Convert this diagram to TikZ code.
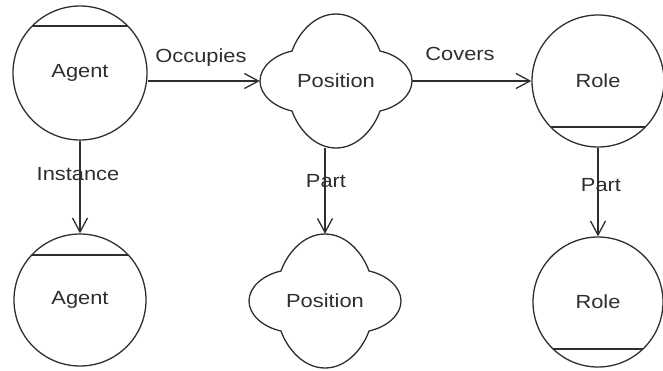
\documentclass[tikz,border=0pt]{standalone}
\usepackage{fontspec}
\setmainfont{Liberation Sans}[FakeStretch=1.15]
\usetikzlibrary{arrows.meta}

\definecolor{ink}{HTML}{2E2E2E}

\tikzset{
  % circle with a chord cut off at the given vertical offset
  capcircle/.style={circle, draw=ink, line width=1.3pt, inner sep=0pt,
    minimum size=132pt, text=ink,
    path picture={\draw[ink, line width=1.3pt]
      ([yshift=#1]path picture bounding box.west) --
      ([yshift=#1]path picture bounding box.east);}},
  % invisible holder for the four-lobed outline
  lobebox/.style={rectangle, inner sep=0pt, minimum width=152pt,
    minimum height=134pt, text=ink},
  quatrefoil/.pic={
    \draw[ink, line width=1.3pt]
      (-44,-30) .. controls (-38,-47) and (-22,-67) .. (0,-67)
      .. controls (22,-67) and (38,-47) .. (44,-30)
      .. controls (62,-26) and (76,-14) .. (76,0)
      .. controls (76,14) and (62,26) .. (44,30)
      .. controls (38,47) and (22,67) .. (0,67)
      .. controls (-22,67) and (-38,47) .. (-44,30)
      .. controls (-62,26) and (-76,14) .. (-76,0)
      .. controls (-76,-14) and (-62,-26) .. (-44,-30) -- cycle;},
  link/.style={draw=ink, line width=1.3pt,
    -{Straight Barb[length=14pt, width=15pt, line width=1.3pt]}},
  lbl/.style={text=ink, inner sep=0pt, anchor=base}
}

\begin{document}
\begin{tikzpicture}[x=1pt, y=-1pt, font=\fontsize{19}{23}\selectfont]
\useasboundingbox (0,0) rectangle (663,370);

% concept nodes
\node[capcircle=47pt, minimum size=134pt] (AgentT) at (80,73) {Agent};
\node[capcircle=45pt] (AgentB) at (80,300) {Agent};
\node[lobebox] (PosT) at (336,81) {Position};
\node[lobebox] (PosB) at (325,301) {Position};
\node[capcircle=-46pt] (RoleT) at (598,81) {Role};
\node[capcircle=-47pt, minimum size=130pt] (RoleB) at (598,302) {Role};

\pic at (PosT.center) {quatrefoil};
\pic at (PosB.center) {quatrefoil};

% relations
\draw[link] (PosT.west -| AgentT.east) -- (PosT.west);
\draw[link] (PosT.east) -- (RoleT.west);
\draw[link] (AgentT.south) -- (AgentB.north);
\draw[link] (PosB.north |- PosT.south) -- (PosB.north);
\draw[link] (RoleT.south) -- (RoleB.north);

% relation labels
\node[lbl] (lOcc) at (201,62) {Occupies};
\node[lbl] (lCov) at (460,60) {Covers};
\node[lbl] (lIns) at (78,180) {Instance};
\node[lbl] (lPartA) at (326,187) {Part};
\node[lbl] (lPartB) at (601,191) {Part};
\end{tikzpicture}
\end{document}
